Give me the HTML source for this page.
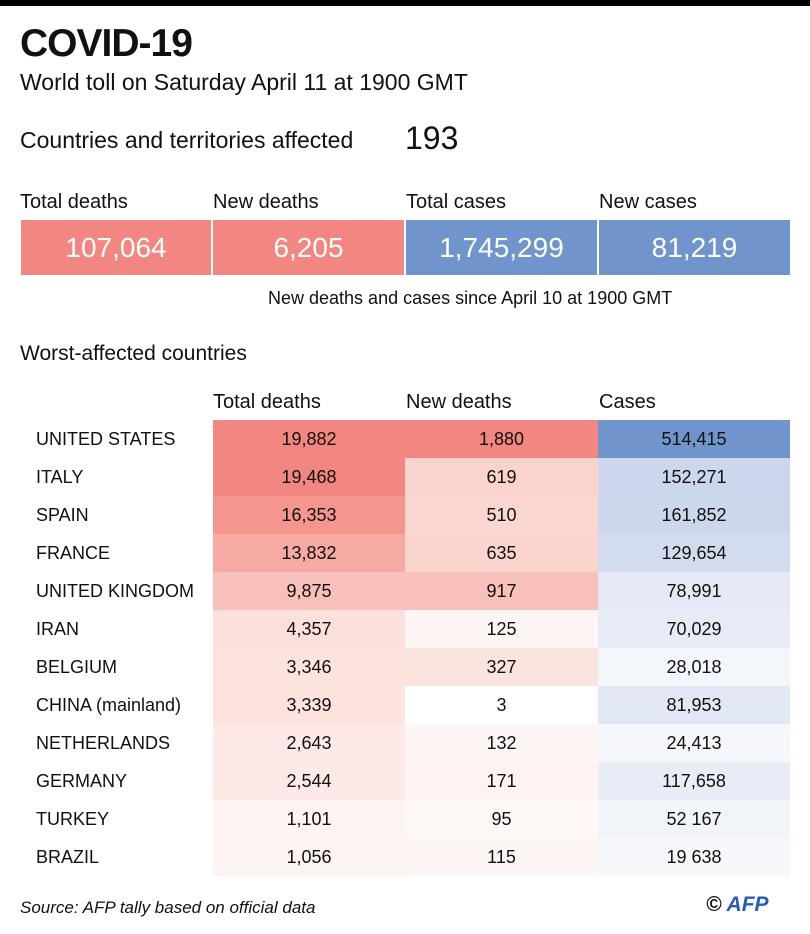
<!DOCTYPE html>
<html><head><meta charset="utf-8"><style>
body{margin:0;width:810px;height:934px;background:#fff;position:relative;overflow:hidden;font-family:"Liberation Sans",sans-serif;color:#111}
.a{position:absolute;white-space:nowrap}
.box{position:absolute;top:220px;height:55px;color:#fff;font-size:28px;text-align:center;line-height:55px}
.r{position:absolute;left:21px;width:770px;height:38px}
.r div{position:absolute;top:0;height:38px;line-height:38px;font-size:18px;text-align:center}
.r .n{left:15px;text-align:left}
.r .c1{left:192px;width:192px}.r .c2{left:384px;width:193px}.r .c3{left:577px;width:192px}
</style></head><body>
<div class="a" style="left:0;top:0;width:810px;height:6px;background:#000"></div>
<div class="a" style="left:20px;top:22px;font-size:39px;font-weight:bold;letter-spacing:-1px">COVID-19</div>
<div class="a" style="left:20px;top:69px;font-size:23px">World toll on Saturday April 11 at 1900 GMT</div>
<div class="a" style="left:20px;top:127px;font-size:23px">Countries and territories affected</div>
<div class="a" style="left:405px;top:120px;font-size:32px">193</div>
<div class="a" style="left:20px;top:191px;font-size:20px">Total deaths</div>
<div class="a" style="left:213px;top:191px;font-size:20px">New deaths</div>
<div class="a" style="left:406px;top:191px;font-size:20px">Total cases</div>
<div class="a" style="left:599px;top:191px;font-size:20px">New cases</div>
<div class="box" style="left:21px;width:190px;background:#f28680">107,064</div>
<div class="box" style="left:213px;width:191px;background:#f28680">6,205</div>
<div class="box" style="left:406px;width:191px;background:#7094cc">1,745,299</div>
<div class="box" style="left:599px;width:191px;background:#7094cc">81,219</div>
<div class="a" style="left:268px;top:288px;font-size:18px">New deaths and cases since April 10 at 1900 GMT</div>
<div class="a" style="left:20px;top:342px;font-size:21px">Worst-affected countries</div>
<div class="a" style="left:213px;top:391px;font-size:20px">Total deaths</div>
<div class="a" style="left:406px;top:391px;font-size:20px">New deaths</div>
<div class="a" style="left:599px;top:391px;font-size:20px">Cases</div>

<div class="r" style="top:420px"><div class="n">UNITED STATES</div><div class="c1" style="background:#f28680">19,882</div><div class="c2" style="background:#f28680">1,880</div><div class="c3" style="background:#7094cc">514,415</div></div>
<div class="r" style="top:458px"><div class="n">ITALY</div><div class="c1" style="background:#f28680">19,468</div><div class="c2" style="background:#f9d3cc">619</div><div class="c3" style="background:#ccd6ec">152,271</div></div>
<div class="r" style="top:496px"><div class="n">SPAIN</div><div class="c1" style="background:#f4958e">16,353</div><div class="c2" style="background:#f9d6cf">510</div><div class="c3" style="background:#cdd7ec">161,852</div></div>
<div class="r" style="top:534px"><div class="n">FRANCE</div><div class="c1" style="background:#f6aaa3">13,832</div><div class="c2" style="background:#f9d5ce">635</div><div class="c3" style="background:#d3dcef">129,654</div></div>
<div class="r" style="top:572px"><div class="n">UNITED KINGDOM</div><div class="c1" style="background:#f8c0ba">9,875</div><div class="c2" style="background:#f8c0ba">917</div><div class="c3" style="background:#e4e9f5">78,991</div></div>
<div class="r" style="top:610px"><div class="n">IRAN</div><div class="c1" style="background:#fbe0db">4,357</div><div class="c2" style="background:#fef6f4">125</div><div class="c3" style="background:#e6ebf6">70,029</div></div>
<div class="r" style="top:648px"><div class="n">BELGIUM</div><div class="c1" style="background:#fce3de">3,346</div><div class="c2" style="background:#fbe3de">327</div><div class="c3" style="background:#f3f6fa">28,018</div></div>
<div class="r" style="top:686px"><div class="n">CHINA (mainland)</div><div class="c1" style="background:#fce3de">3,339</div><div class="c2" style="background:#ffffff">3</div><div class="c3" style="background:#e1e7f4">81,953</div></div>
<div class="r" style="top:724px"><div class="n">NETHERLANDS</div><div class="c1" style="background:#fde9e6">2,643</div><div class="c2" style="background:#fef6f4">132</div><div class="c3" style="background:#f5f7fb">24,413</div></div>
<div class="r" style="top:762px"><div class="n">GERMANY</div><div class="c1" style="background:#fdeae7">2,544</div><div class="c2" style="background:#fef3f1">171</div><div class="c3" style="background:#e7ecf6">117,658</div></div>
<div class="r" style="top:800px"><div class="n">TURKEY</div><div class="c1" style="background:#fef4f2">1,101</div><div class="c2" style="background:#fef8f6">95</div><div class="c3" style="background:#f1f4f9">52 167</div></div>
<div class="r" style="top:838px"><div class="n">BRAZIL</div><div class="c1" style="background:#fef4f2">1,056</div><div class="c2" style="background:#fef6f4">115</div><div class="c3" style="background:#f6f8fb">19 638</div></div>

<div class="a" style="left:20px;top:898px;font-size:17px;font-style:italic">Source: AFP tally based on official data</div>
<div class="a" style="left:706px;top:893px;font-size:21px;font-weight:bold;font-style:italic">© <span style="color:#2a5ab8">AFP</span></div>
</body></html>
